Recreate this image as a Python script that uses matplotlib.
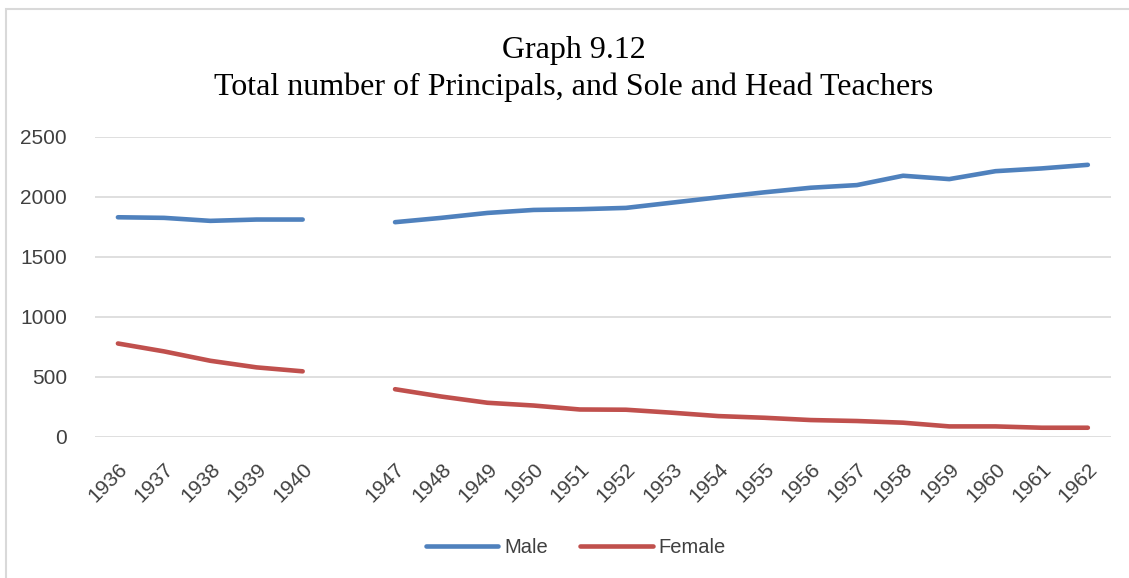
"""
Graph 9.12 - principals, sole and head teachers by sex
"""

import numpy as np
import matplotlib
matplotlib.use("Agg")
import matplotlib.pyplot as plt
from matplotlib.patches import Rectangle

# blank category between 1940 and 1947 leaves the gap in both lines
years = ["1936", "1937", "1938", "1939", "1940", "",
         "1947", "1948", "1949", "1950", "1951", "1952", "1953", "1954",
         "1955", "1956", "1957", "1958", "1959", "1960", "1961", "1962"]
male = [1831, 1826, 1801, 1812, 1812, np.nan,
        1790, 1826, 1867, 1892, 1898, 1909, 1953, 1997,
        2039, 2077, 2099, 2177, 2149, 2215, 2238, 2268]
female = [779, 713, 635, 580, 547, np.nan,
          398, 337, 285, 262, 229, 227, 202, 174,
          160, 141, 133, 119, 88, 88, 77, 77]
y_ticks = [0, 500, 1000, 1500, 2000, 2500]

TITLE = "Graph 9.12\nTotal number of Principals, and Sole and Head Teachers"
BLUE = "#4F81BD"
RED = "#C0504D"
GRID = "#d9d9d9"
TICK_FONT = "Liberation Sans"


def main():
    fig = plt.figure(figsize=(11.29, 5.78), dpi=100)
    ax = fig.add_axes([0.084, 0.244, 0.9, 0.519])

    x = np.arange(len(years))
    ax.plot(x, male, color=BLUE, lw=3.3, solid_capstyle="round",
            solid_joinstyle="round", label="Male")
    ax.plot(x, female, color=RED, lw=3.3, solid_capstyle="round",
            solid_joinstyle="round", label="Female")

    ax.set_xlim(-0.5, len(years) - 0.5)
    ax.set_ylim(0, 2500)
    ax.set_yticks(y_ticks)
    ax.set_yticklabels([str(v) for v in y_ticks], fontsize=15,
                       family=TICK_FONT, color="#404040")
    ax.set_xticks(x)
    ax.set_xticklabels(years, rotation=45, ha="right", rotation_mode="anchor",
                       fontsize=15, family=TICK_FONT, color="#404040")
    ax.tick_params(axis="both", length=0)
    ax.tick_params(axis="y", pad=20)
    ax.tick_params(axis="x", pad=16)

    ax.grid(axis="y", color=GRID, lw=1.2)
    ax.set_axisbelow(True)
    for side in ax.spines.values():
        side.set_visible(False)

    fig.text(0.508, 0.937, TITLE, ha="center", va="top", fontsize=23,
             family="Liberation Serif", linespacing=1.3)

    leg = fig.legend(loc="center", bbox_to_anchor=(0.51, 0.052), ncol=2,
                     frameon=False, handlelength=3.6, columnspacing=1.6,
                     handletextpad=0.3,
                     prop={"family": TICK_FONT, "size": 14.5})
    for txt in leg.get_texts():
        txt.set_color("#404040")

    # light chart frame
    fig.patches.append(Rectangle((0.005, -0.01), 0.998, 0.995,
                                 transform=fig.transFigure, fill=False,
                                 edgecolor=GRID, lw=1.5))

    fig.savefig("out.png", dpi=100)
    plt.close(fig)


if __name__ == "__main__":
    main()
